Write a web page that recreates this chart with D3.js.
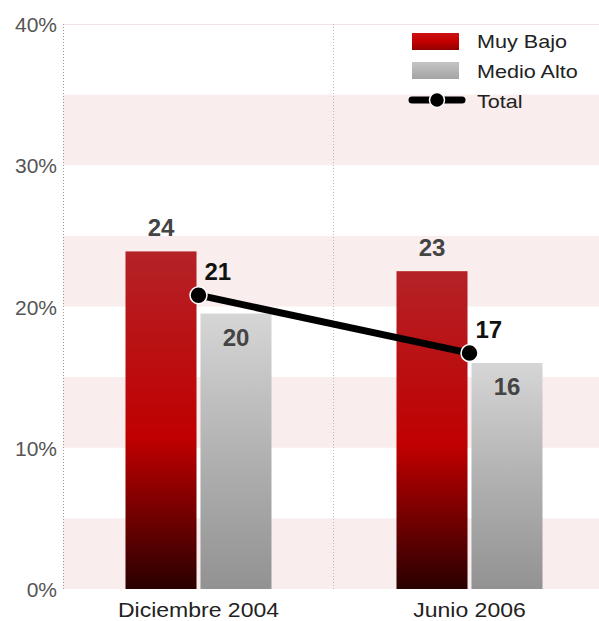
<!DOCTYPE html>
<html><head><meta charset="utf-8">
<script src="https://cdn.jsdelivr.net/npm/d3@7"></script>
<style>body{margin:0;background:#fff;font-family:Arial,"Liberation Sans",sans-serif}</style>
</head><body><svg id="c" width="599" height="621"></svg>
<script>
const categories = ["Diciembre 2004", "Junio 2006"];
const seriesNames = ["Muy Bajo", "Medio Alto", "Total"];
const muyBajo = [23.9, 22.5];
const medioAlto = [19.5, 16.0];
const total = [20.8, 16.7];
const yTicks = [0, 10, 20, 30, 40];
const bands = [[0,5],[10,15],[20,25],[30,35]];

const svg = d3.select("#c");
const L = 63, R = 605, T = 24, B = 589;
const y = d3.scaleLinear().domain([0,40]).range([B,T]);
const x = d3.scaleBand().domain(categories).range([L,R]);
const xs = d3.scaleBand().domain(["Muy Bajo","Medio Alto"]).range([-73,73]).paddingInner(0.053);

const defs = svg.append("defs");
const g1 = defs.append("linearGradient").attr("id","gr").attr("x1",0).attr("y1",0).attr("x2",0).attr("y2",1);
[[0,"#b42227"],[0.55,"#c00000"],[1,"#2a0000"]].forEach(s=>g1.append("stop").attr("offset",s[0]).attr("stop-color",s[1]));
const g2 = defs.append("linearGradient").attr("id","gg").attr("x1",0).attr("y1",0).attr("x2",0).attr("y2",1);
[[0,"#d6d6d6"],[0.5,"#b2b2b2"],[1,"#929292"]].forEach(s=>g2.append("stop").attr("offset",s[0]).attr("stop-color",s[1]));
const lg1 = defs.append("linearGradient").attr("id","lr").attr("x1",0).attr("y1",0).attr("x2",0).attr("y2",1);
[[0,"#cc1010"],[0.5,"#c40000"],[1,"#900000"]].forEach(s=>lg1.append("stop").attr("offset",s[0]).attr("stop-color",s[1]));
const lg2 = defs.append("linearGradient").attr("id","lg").attr("x1",0).attr("y1",0).attr("x2",0).attr("y2",1);
[[0,"#c4c4c4"],[1,"#a4a4a4"]].forEach(s=>lg2.append("stop").attr("offset",s[0]).attr("stop-color",s[1]));

// bands
svg.selectAll("rect.band").data(bands).enter().append("rect")
  .attr("x",L).attr("width",599-L).attr("y",d=>y(d[1])).attr("height",d=>y(d[0])-y(d[1]))
  .attr("fill","#f9eded");
svg.append("line").attr("x1",L).attr("x2",599).attr("y1",y(40)+0.5).attr("y2",y(40)+0.5).attr("stroke","#f3e3e3");
svg.append("line").attr("x1",L+0.5).attr("x2",L+0.5).attr("y1",T).attr("y2",B).attr("stroke","#999").attr("stroke-dasharray","1,2");
svg.append("line").attr("x1",x(categories[1])-0.5).attr("x2",x(categories[1])-0.5).attr("y1",T).attr("y2",B).attr("stroke","#bbb").attr("stroke-dasharray","1,2");

// y tick labels
svg.selectAll("text.yt").data(yTicks).enter().append("text")
  .attr("x",L-6).attr("y",d=>y(d)+8).attr("text-anchor","end")
  .attr("font-size",21).attr("fill","#555").text(d=>d+"%");

const cx = c => x(c) + x.bandwidth()/2;
const barData = [];
categories.forEach((c,i)=>{
  barData.push({c, s:"Muy Bajo", v:muyBajo[i], f:"url(#gr)"});
  barData.push({c, s:"Medio Alto", v:medioAlto[i], f:"url(#gg)"});
});
svg.selectAll("rect.bar").data(barData).enter().append("rect")
  .attr("x",d=>cx(d.c)+xs(d.s)).attr("width",xs.bandwidth())
  .attr("y",d=>y(d.v)).attr("height",d=>B-y(d.v)).attr("fill",d=>d.f);

svg.selectAll("text.bl").data(barData).enter().append("text")
  .attr("x",d=>cx(d.c)+xs(d.s)+xs.bandwidth()/2)
  .attr("y",d=> d.s==="Muy Bajo" ? y(d.v)-15 : y(d.v)+32)
  .attr("text-anchor","middle").attr("font-size",24).attr("font-weight","bold").attr("fill","#444")
  .text(d=>Math.round(d.v));

// total line
const line = d3.line().x((d,i)=>cx(categories[i])).y(d=>y(d));
svg.append("path").datum(total).attr("d",line).attr("fill","none").attr("stroke","#000").attr("stroke-width",7);
svg.selectAll("circle.pt").data(total).enter().append("circle")
  .attr("cx",(d,i)=>cx(categories[i])).attr("cy",d=>y(d)).attr("r",8.5)
  .attr("fill","#000").attr("stroke","#fff").attr("stroke-width",1.5);
svg.selectAll("text.tl").data(total).enter().append("text")
  .attr("x",(d,i)=>cx(categories[i])+6).attr("y",d=>y(d)-15)
  .attr("font-size",24).attr("font-weight","bold").attr("fill","#111").text(d=>Math.round(d));

// x labels
svg.selectAll("text.xl").data(categories).enter().append("text")
  .attr("transform",d=>`translate(${cx(d)},617) scale(1.18,1)`).attr("text-anchor","middle")
  .attr("font-size",19.5).attr("fill","#222").text(d=>d);

// legend
const lgX = 412, lgY = 33;
svg.append("rect").attr("x",lgX).attr("y",lgY).attr("width",47).attr("height",17).attr("fill","url(#lr)");
svg.append("rect").attr("x",lgX).attr("y",lgY+29).attr("width",47).attr("height",17).attr("fill","url(#lg)");
svg.append("line").attr("x1",lgX).attr("x2",lgX+50).attr("y1",lgY+67).attr("y2",lgY+67).attr("stroke","#000").attr("stroke-width",7).attr("stroke-linecap","round");
svg.append("circle").attr("cx",lgX+25).attr("cy",lgY+67).attr("r",7.5).attr("fill","#000").attr("stroke","#fff").attr("stroke-width",1.5);
seriesNames.forEach((n,i)=>{
  svg.append("text").attr("transform",`translate(477,${47.5+i*30}) scale(1.2,1)`)
    .attr("font-size",18).attr("fill","#222").text(n);
});
</script></body></html>
